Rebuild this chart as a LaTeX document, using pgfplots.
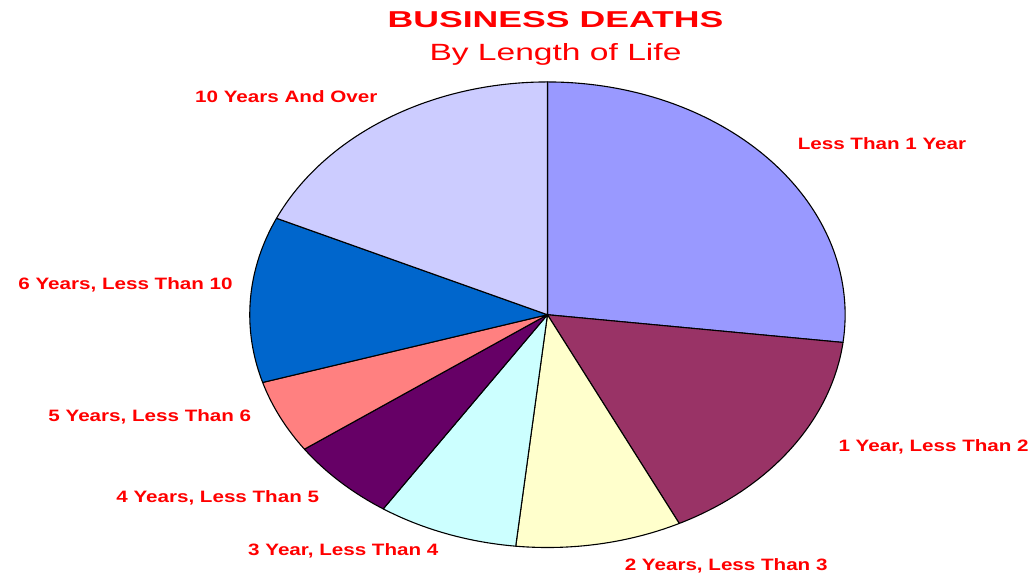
\documentclass[border=0pt]{standalone}
\usepackage{graphicx}
\usepackage{pgfplots}
\usepackage{pgfplotstable}
\pgfplotsset{compat=1.18}
\usepackage{fontspec}
\setmainfont{Liberation Sans}

\definecolor{c0}{HTML}{9999FF}
\definecolor{c1}{HTML}{993366}
\definecolor{c2}{HTML}{FFFFCC}
\definecolor{c3}{HTML}{CCFFFF}
\definecolor{c4}{HTML}{660066}
\definecolor{c5}{HTML}{FF8080}
\definecolor{c6}{HTML}{0066CC}
\definecolor{c7}{HTML}{CCCCFF}
\definecolor{txtred}{HTML}{FF0000}

% share of business deaths (percent), clockwise from the top
\pgfplotstableread{
label value
{Less Than 1 Year} 26.9
{1 Year, Less Than 2} 15.8
{2 Years, Less Than 3} 9.0
{3 Year, Less Than 4} 7.6
{4 Years, Less Than 5} 5.9
{5 Years, Less Than 6} 5.1
{6 Years, Less Than 10} 11.5
{10 Years And Over} 18.2
}\piedata

\newcommand\lbl[1]{\scalebox{1.25}[1]{\fontsize{16.5}{18}\selectfont\bfseries #1}}

\begin{document}
\begin{tikzpicture}
\xdef\startang{90}
\pgfplotsforeachungrouped \i in {0,...,7}{%
  \pgfplotstablegetelem{\i}{value}\of\piedata
  \pgfmathsetmacro\endang{\startang - 3.6*\pgfplotsretval}%
  \expandafter\xdef\csname sA\i\endcsname{\startang}%
  \expandafter\xdef\csname sB\i\endcsname{\endang}%
  \xdef\startang{\endang}%
}
\begin{axis}[
  width=1032pt, height=577pt, scale only axis,
  xmin=-1.839, xmax=1.624, ymin=-1.124, ymax=1.352,
  hide axis, clip=false,
]
\path (rel axis cs:0,0) rectangle (rel axis cs:1,1);
\pgfplotsinvokeforeach{0,...,7}{
  \addplot[fill=c#1, draw=black, line width=1.1pt, line join=round,
    domain=\csname sB#1\endcsname:\csname sA#1\endcsname, samples=90, variable=\t]
    ({cos(\t)},{sin(\t)}) -- (axis cs:0,0) -- cycle;
}
\node[txtred, anchor=west] at (axis cs:0.829,0.734) {\lbl{Less Than 1 Year}};
\node[txtred, anchor=west] at (axis cs:0.966,-0.567) {\lbl{1 Year, Less Than 2}};
\node[txtred, anchor=west] at (axis cs:0.248,-1.077) {\lbl{2 Years, Less Than 3}};
\node[txtred, anchor=west] at (axis cs:-1.017,-1.013) {\lbl{3 Year, Less Than 4}};
\node[txtred, anchor=west] at (axis cs:-1.460,-0.785) {\lbl{4 Years, Less Than 5}};
\node[txtred, anchor=west] at (axis cs:-1.688,-0.438) {\lbl{5 Years, Less Than 6}};
\node[txtred, anchor=west] at (axis cs:-1.789,0.129) {\lbl{6 Years, Less Than 10}};
\node[txtred, anchor=west] at (axis cs:-1.195,0.936) {\lbl{10 Years And Over}};
\node[txtred] at (axis cs:0.027,1.266) {\scalebox{1.55}[1]{\fontsize{23}{26}\selectfont\bfseries BUSINESS DEATHS}};
\node[txtred] at (axis cs:0.027,1.116) {\scalebox{1.43}[1]{\fontsize{23.5}{26}\selectfont By Length of Life}};
\end{axis}
\end{tikzpicture}
\end{document}
